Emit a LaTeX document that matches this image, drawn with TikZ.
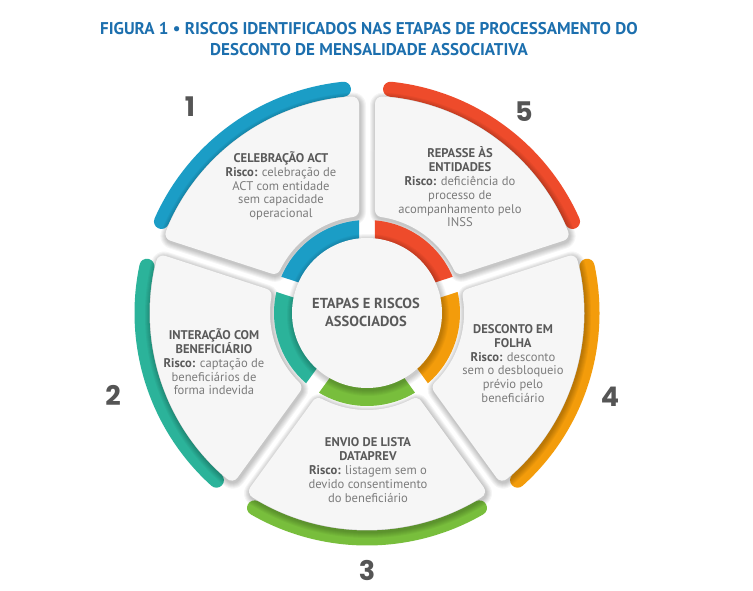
\documentclass[tikz,border=0pt]{standalone}
\usepackage{fontspec}
\setmainfont{PT Sans}
\newfontfamily\numfont{Poppins}
\usetikzlibrary{calc}
\definecolor{cblue}{HTML}{1B9DC6}
\definecolor{cred}{HTML}{EE4B2B}
\definecolor{corange}{HTML}{F39C0B}
\definecolor{cgreen}{HTML}{78BE3C}
\definecolor{cteal}{HTML}{2BB39A}
\definecolor{ctitle}{HTML}{1C6FAE}
\definecolor{chead}{HTML}{5A5A5A}
\definecolor{cbody}{HTML}{7C7C7C}
\definecolor{cnum}{HTML}{555555}
\definecolor{cardfill}{HTML}{F6F6F6}
\newcommand\cardshape[1]{({#1+4.096}:210pt) arc[start angle={#1+4.096}, end angle={#1+72-4.096}, radius=210pt] -- ({#1+72-8.29}:104pt) arc[start angle={#1+72-8.29}, end angle={#1+8.29}, radius=104pt] -- cycle}
\newcommand\ringshape[1]{({#1+4.93}:93pt) arc[start angle={#1+4.93}, end angle={#1+72-4.93}, radius=93pt] -- ({#1+72-6.29}:73pt) arc[start angle={#1+72-6.29}, end angle={#1+6.29}, radius=73pt] -- cycle}
\newcommand\headln[1]{{\bfseries\color{chead}#1}}
\newcommand\riscolbl{{\bfseries\color{chead}Risco:}}
\tikzset{
  cardtext/.style={text=cbody, align=center, font=\fontsize{12.6}{13.8}\selectfont, inner sep=0pt},
  centertext/.style={text=chead, align=center, font=\bfseries\fontsize{14.5}{18}\selectfont, inner sep=0pt},
  numlbl/.style={text=cnum, font=\numfont\bfseries\fontsize{27}{30}\selectfont, inner sep=0pt},
  titletext/.style={text=ctitle, align=center, font=\bfseries\fontsize{17}{21}\selectfont, inner sep=0pt},
  band/.style={line width=15pt, line cap=round},
}
\begin{document}
\begin{tikzpicture}[x=1pt,y=1pt]
\useasboundingbox (0,0) rectangle (753,590);
\fill[white] (0,0) rectangle (753,590);
\begin{scope}[shift={(367,277)}]
  % outer coloured bands
  \foreach \a/\c in {90/cblue,18/cred,-54/corange,-126/cgreen,162/cteal}{
    \draw[band, \c] ({\a+6}:225pt) arc[start angle={\a+6}, end angle={\a+66}, radius=225pt];
  }
  % card shadows
  \foreach \a in {90,18,-54,-126,162}{
    \foreach \k in {1,...,6}{
      \pgfmathsetmacro\lw{14+2*\k}
      \draw[black, opacity=0.04, line width=\lw pt, line join=round, yshift=-2pt, xshift=1pt] \cardshape{\a};
    }
  }
  % cards
  \foreach \a in {90,18,-54,-126,162}{
    \filldraw[fill=cardfill, draw=cardfill, line width=14pt, line join=round] \cardshape{\a};
  }
  % inner ring
  \foreach \a/\c in {90/cblue,18/cred,-54/corange,-126/cgreen,162/cteal}{
    \fill[\c] \ringshape{\a};
  }
  % centre circle shadow
  \foreach \k in {1,...,6}{
    \pgfmathsetmacro\rr{75+\k}
    \fill[black, opacity=0.035] (1pt,-2pt) circle[radius=\rr pt];
  }
  \fill[cardfill] (0,0) circle[radius=75pt];
\end{scope}
% title
\node[titletext] (title) at (369,550.5) {FIGURA 1 • RISCOS IDENTIFICADOS NAS ETAPAS DE PROCESSAMENTO DO\\DESCONTO DE MENSALIDADE ASSOCIATIVA};
% centre text
\node[centertext] (ctr) at (366,278) {ETAPAS E RISCOS\\ASSOCIADOS};
% card texts
\node[cardtext] (t1) at (281,404) {\headln{CELEBRAÇÃO ACT}\\\riscolbl{} celebração de\\ACT com entidade\\sem capacidade\\operacional};
\node[cardtext] (t5) at (460,403) {\headln{REPASSE ÀS}\\\headln{ENTIDADES}\\\riscolbl{} deficiência do\\processo de\\acompanhamento pelo\\INSS};
\node[cardtext] (t2) at (214,228) {\headln{INTERAÇÃO COM}\\\headln{BENEFICIÁRIO}\\\riscolbl{} captação de\\beneficiários de\\forma indevida};
\node[cardtext] (t4) at (513,226.5) {\headln{DESCONTO EM}\\\headln{FOLHA}\\\riscolbl{} desconto\\sem o desbloqueio\\prévio pelo\\beneficiário};
\node[cardtext] (t3) at (368,120) {\headln{ENVIO DE LISTA}\\\headln{DATAPREV}\\\riscolbl{} listagem sem o\\devido consentimento\\do beneficiário};
% numbers
\node[numlbl] (n1) at (190,483) {1};
\node[numlbl] (n5) at (524,478) {5};
\node[numlbl] (n2) at (113,195) {2};
\node[numlbl] (n4) at (610,193) {4};
\node[numlbl] (n3) at (367,20) {3};
\end{tikzpicture}
\end{document}
